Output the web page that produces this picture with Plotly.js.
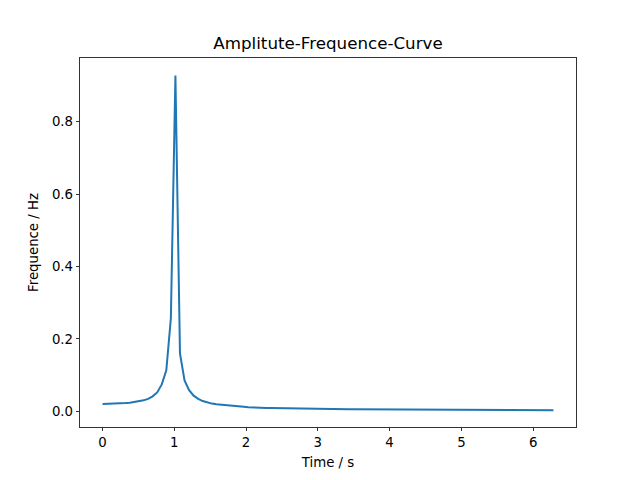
<!DOCTYPE html>
<html>
<head>
<meta charset="utf-8">
<script src="https://cdn.plot.ly/plotly-3.0.1.min.js"></script>
<style>html,body{margin:0;padding:0;background:#fff;}#chart{width:640px;height:480px;}</style>
</head>
<body>
<div id="chart"></div>
<script>
const timeValues = [
  0.0000, 0.0635, 0.1269, 0.1904, 0.2539, 0.3173, 0.3808, 0.4443, 0.5077, 0.5712,
  0.6347, 0.6981, 0.7616, 0.8251, 0.8885, 0.9520, 1.0155, 1.0789, 1.1424, 1.2059,
  1.2693, 1.3328, 1.3963, 1.4597, 1.5232, 1.5867, 1.6501, 1.7136, 1.7771, 1.8405,
  1.9040, 1.9675, 2.0309, 2.0944, 2.1579, 2.2213, 2.2848, 2.3483, 2.4117, 2.4752,
  2.5387, 2.6021, 2.6656, 2.7291, 2.7925, 2.8560, 2.9195, 2.9829, 3.0464, 3.1099,
  3.1733, 3.2368, 3.3003, 3.3637, 3.4272, 3.4907, 3.5541, 3.6176, 3.6811, 3.7445,
  3.8080, 3.8715, 3.9349, 3.9984, 4.0619, 4.1253, 4.1888, 4.2523, 4.3157, 4.3792,
  4.4427, 4.5061, 4.5696, 4.6331, 4.6965, 4.7600, 4.8235, 4.8869, 4.9504, 5.0139,
  5.0773, 5.1408, 5.2043, 5.2677, 5.3312, 5.3947, 5.4581, 5.5216, 5.5851, 5.6485,
  5.7120, 5.7755, 5.8389, 5.9024, 5.9659, 6.0293, 6.0928, 6.1563, 6.2197, 6.2832
];
const amplitudeValues = [
  0.0200, 0.0202, 0.0205, 0.0210, 0.0215, 0.0225, 0.0235, 0.0250, 0.0270, 0.0300,
  0.0340, 0.0410, 0.0520, 0.0740, 0.1130, 0.2570, 0.9280, 0.1600, 0.0850, 0.0580,
  0.0430, 0.0340, 0.0280, 0.0240, 0.0210, 0.0190, 0.0175, 0.0162, 0.0150, 0.0139,
  0.0129, 0.0120, 0.0110, 0.0100, 0.0096, 0.0092, 0.0088, 0.0085, 0.0082, 0.0079,
  0.0076, 0.0074, 0.0071, 0.0069, 0.0067, 0.0065, 0.0063, 0.0061, 0.0060, 0.0058,
  0.0057, 0.0055, 0.0054, 0.0053, 0.0052, 0.0051, 0.0050, 0.0049, 0.0048, 0.0047,
  0.0046, 0.0045, 0.0045, 0.0044, 0.0043, 0.0042, 0.0042, 0.0041, 0.0040, 0.0040,
  0.0039, 0.0039, 0.0038, 0.0037, 0.0037, 0.0036, 0.0036, 0.0035, 0.0035, 0.0034,
  0.0034, 0.0034, 0.0033, 0.0033, 0.0032, 0.0032, 0.0032, 0.0031, 0.0031, 0.0030,
  0.0030, 0.0030, 0.0029, 0.0029, 0.0029, 0.0028, 0.0028, 0.0028, 0.0027, 0.0027
];
const xTickValues = [0, 1, 2, 3, 4, 5, 6];
const yTickValues = [0.0, 0.2, 0.4, 0.6, 0.8];
const yTickLabels = ['0.0', '0.2', '0.4', '0.6', '0.8'];

const font = {family: 'DejaVu Sans', size: 13.3, color: '#000'};
const axisCommon = {
  showgrid: false, zeroline: false, showline: true, mirror: true,
  linecolor: '#000', linewidth: 0.8, ticks: 'outside', ticklen: 3.5,
  tickwidth: 0.8, tickcolor: '#000', tickfont: font
};
Plotly.newPlot('chart', [{
  x: timeValues, y: amplitudeValues, type: 'scatter', mode: 'lines',
  line: {color: '#1f77b4', width: 2}
}], {
  width: 640, height: 480,
  margin: {l: 80, r: 64, t: 58, b: 53},
  paper_bgcolor: '#fff', plot_bgcolor: '#fff',
  showlegend: false,
  font: font,
  title: {text: 'Amplitute-Frequence-Curve', font: {family: 'DejaVu Sans', size: 16.7, color: '#000'},
          x: 0.5, xref: 'paper', xanchor: 'center', y: 1 - 43/480, yref: 'container', yanchor: 'middle'},
  xaxis: Object.assign({}, axisCommon, {
    range: [-0.3142, 6.5974], tickvals: xTickValues, ticktext: xTickValues.map(String),
    title: {text: 'Time / s', font: font, standoff: 8}
  }),
  yaxis: Object.assign({}, axisCommon, {
    range: [-0.0437, 0.9764], tickvals: yTickValues, ticktext: yTickLabels,
    title: {text: 'Frequence / Hz', font: font, standoff: 10}
  })
}, {staticPlot: true});
</script>
</body>
</html>
